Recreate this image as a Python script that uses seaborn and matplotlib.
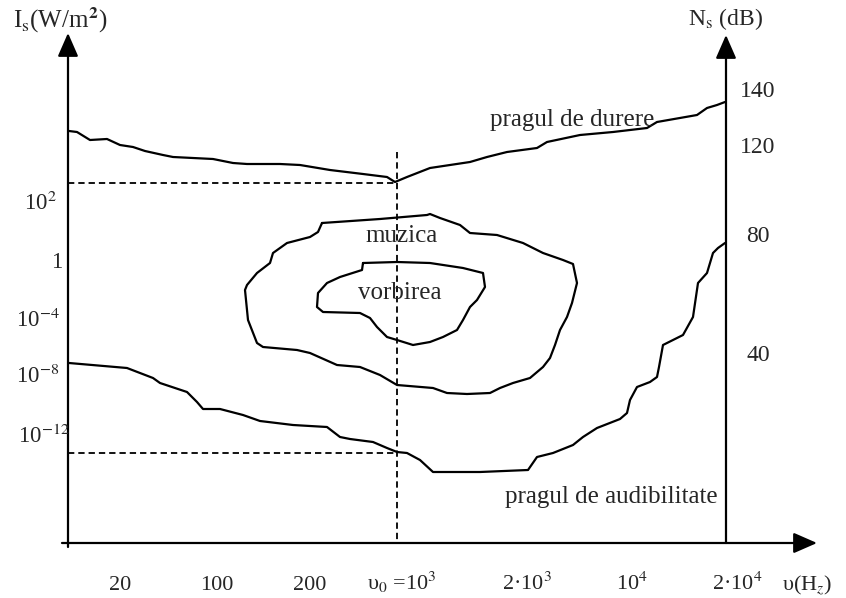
import numpy as np
import matplotlib
matplotlib.use('Agg')
import matplotlib.pyplot as plt
import seaborn as sns

# curve traces (pixel-like units, y downwards)
pain_x = [69, 77, 90, 107, 120, 133, 145, 163, 173, 213, 233, 247, 280, 300, 330, 363, 387, 395,
          407, 430, 470, 487, 507, 537, 547, 580, 613, 647, 657, 697, 707, 717, 725]
pain_y = [131, 132, 140, 139, 145, 147, 151, 155, 157, 159, 163, 164, 164, 165, 170, 174, 177, 182,
          177, 168, 162, 157, 152, 148, 142, 135, 132, 128, 122, 115, 108, 105, 102]

hearing_x = [69, 127, 153, 160, 187, 197, 203, 220, 243, 260, 293, 327, 340, 350, 373, 387, 397, 407,
             420, 433, 480, 528, 537, 553, 573, 583, 597, 620, 627, 630, 637, 650, 657, 659, 663,
             683, 693, 698, 707, 713, 718, 725]
hearing_y = [363, 368, 378, 383, 392, 402, 409, 409, 415, 421, 425, 427, 437, 439, 442, 448, 452, 453,
             460, 472, 472, 470, 457, 453, 445, 437, 428, 419, 413, 400, 387, 382, 377, 367, 345,
             335, 317, 283, 273, 253, 248, 243]

music_x = [322, 380, 427, 430, 440, 460, 470, 497, 523, 543, 563, 573, 577, 572, 567, 560, 555, 550,
           543, 530, 513, 500, 490, 467, 447, 433, 397, 380, 360, 337, 310, 297, 263, 257, 248, 245,
           247, 257, 270, 273, 287, 310, 318, 322]
music_y = [223, 219, 215, 214, 218, 225, 233, 235, 243, 253, 260, 264, 283, 303, 317, 330, 345, 358,
           367, 378, 383, 388, 393, 394, 393, 388, 385, 375, 367, 365, 353, 350, 347, 343, 320, 290,
           285, 273, 263, 253, 243, 237, 232, 223]

speech_x = [363, 397, 430, 463, 483, 485, 477, 470, 463, 457, 443, 430, 413, 397, 387, 377, 370,
            360, 323, 317, 318, 327, 340, 362, 363]
speech_y = [263, 262, 263, 268, 273, 287, 300, 307, 320, 330, 337, 342, 345, 340, 337, 327, 318,
            313, 312, 307, 293, 283, 277, 270, 263]

# tick labels
left_labels = ['10$^{2}$', '1', '10$^{-4}$', '10$^{-8}$', '10$^{-12}$']
left_label_x = [40, 57, 38, 38, 44]
left_label_y = [210, 268, 327, 383, 443]
right_labels = ['140', '120', '80', '40']
right_label_y = [97, 153, 242, 361]
freq_labels = ['20', '100', '200', 'υ$_0$ =10$^3$', '2·10$^3$', '10$^4$', '2·10$^4$', 'υ(H$_z$)']
freq_label_x = [120, 217, 310, 402, 527, 632, 737, 807]

# reference levels
ref_x = 397
ref_y_pain = 183
ref_y_hearing = 453
base_y = 543
left_axis_x = 68
right_axis_x = 726

sns.set_theme(style='white')
plt.rcParams['font.family'] = ['Liberation Serif', 'DejaVu Serif']
plt.rcParams['mathtext.fontset'] = 'stix'

fig = plt.figure(figsize=(8.46, 5.98), dpi=100)
ax = fig.add_axes([0, 0, 1, 1])
ax.set_xlim(0, 846)
ax.set_ylim(598, 0)
ax.axis('off')

for xs, ys in [(pain_x, pain_y), (hearing_x, hearing_y), (music_x, music_y), (speech_x, speech_y)]:
    sns.lineplot(x=xs, y=ys, sort=False, estimator=None, color='black', lw=1.6, ax=ax,
                 solid_joinstyle='round', solid_capstyle='round')

dash = (0, (3.5, 2.2))
ax.plot([left_axis_x, ref_x], [ref_y_pain, ref_y_pain], color='black', lw=1.3, linestyle=dash)
ax.plot([left_axis_x, ref_x], [ref_y_hearing, ref_y_hearing], color='black', lw=1.3, linestyle=dash)
ax.plot([ref_x, ref_x], [152, base_y], color='black', lw=1.3, linestyle=dash)

arrow = dict(arrowstyle='-|>,head_length=0.8,head_width=0.35', color='black', lw=1.6,
             mutation_scale=18, shrinkA=0, shrinkB=0)
ax.annotate('', xy=(left_axis_x, 33), xytext=(left_axis_x, 547), arrowprops=arrow)
ax.annotate('', xy=(right_axis_x, 35), xytext=(right_axis_x, base_y), arrowprops=arrow)
ax.annotate('', xy=(817, base_y), xytext=(62, base_y), arrowprops=arrow)

fs = 16.5
for lab, lx, ly in zip(left_labels, left_label_x, left_label_y):
    ax.text(lx, ly, lab, ha='center', va='baseline', fontsize=fs)
for lab, ly in zip(right_labels, right_label_y):
    ax.text(758, ly, lab, ha='center', va='baseline', fontsize=17)
for lab, lx in zip(freq_labels, freq_label_x):
    ax.text(lx, 590, lab, ha='center', va='baseline', fontsize=16)

ax.text(13, 28, 'I$_{\\rm  s}$(W/m$^{\\mathbf{2}}$)', ha='left', va='baseline', fontsize=18)
ax.text(688, 25, 'N$_{\\rm s}$ (dB)', ha='left', va='baseline', fontsize=17)

ax.text(572, 126, 'pragul de durere', ha='center', va='baseline', fontsize=18)
ax.text(402, 242, 'muzica', ha='center', va='baseline', fontsize=18)
ax.text(400, 299, 'vorbirea', ha='center', va='baseline', fontsize=18)
ax.text(611, 503, 'pragul de audibilitate', ha='center', va='baseline', fontsize=18)

fig.savefig('out.png', dpi=100, facecolor='white')
